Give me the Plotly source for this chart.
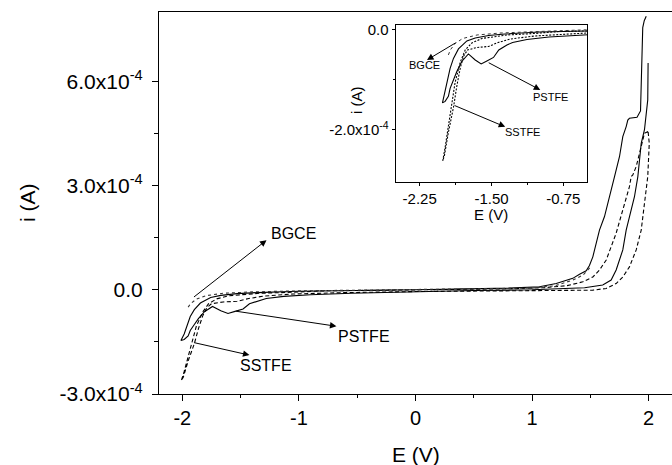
import plotly.graph_objects as go

SCALE = 1e-4  # currents below are stored in units of 1e-4 A

# PSTFE (solid loop): upper branch from +2 V down to the -2 V vertex
pstfe_up_E = [1.979, 1.962, 1.949, 1.94, 1.93, 1.90, 1.865, 1.835, 1.821, 1.807, 1.778, 1.750,
              1.707, 1.664, 1.621, 1.578, 1.550, 1.521, 1.492, 1.464, 1.407, 1.349, 1.207,
              1.063, 0.8, 0.4, 0.0, -0.5, -1.0, -1.36, -1.53, -1.67, -1.757, -1.845, -1.897,
              -1.932, -1.960, -1.984, -2.012]
pstfe_up_i = [7.88, 7.75, 7.55, 6.3, 5.15, 4.97, 4.95, 4.94, 4.89, 4.70, 4.41, 3.84,
              3.26, 2.68, 2.11, 1.72, 1.34, 0.95, 0.70, 0.55, 0.45, 0.33, 0.18,
              0.09, 0.05, 0.02, 0.0, -0.02, -0.04, -0.08, -0.11, -0.16, -0.22, -0.38, -0.57,
              -0.77, -1.03, -1.27, -1.46]
# PSTFE lower branch (with the reduction bump) from the vertex back to +2 V
pstfe_dn_E = [-2.012, -1.984, -1.950, -1.932, -1.897, -1.862, -1.810, -1.757, -1.741, -1.670,
              -1.608, -1.548, -1.479, -1.424, -1.339, -1.280, -1.130, -0.9, -0.55, 0.0, 0.5,
              1.0, 1.3, 1.45, 1.606, 1.678, 1.721, 1.750, 1.778, 1.807, 1.835, 1.878, 1.907,
              1.921, 1.936, 1.964, 1.985, 1.992, 1.995]
pstfe_dn_i = [-1.46, -1.43, -1.33, -1.17, -1.00, -0.83, -0.63, -0.51, -0.48, -0.60,
              -0.68, -0.62, -0.55, -0.40, -0.30, -0.25, -0.19, -0.14, -0.10, -0.05, -0.02,
              0.0, 0.03, 0.06, 0.14, 0.28, 0.57, 0.86, 1.15, 1.72, 2.11, 2.68, 3.26,
              3.84, 4.22, 4.61, 5.18, 5.47, 6.53]

# SSTFE (dashed loop)
sstfe_up_E = [1.995, 1.964, 1.936, 1.893, 1.864, 1.850, 1.835, 1.792, 1.764, 1.721, 1.678,
              1.636, 1.578, 1.521, 1.435, 1.3, 1.1, 0.8, 0.3, -0.3, -0.8, -1.05, -1.338,
              -1.60, -1.705, -1.775, -1.827, -1.88, -1.914, -1.95, -1.984, -2.009]
sstfe_up_i = [4.56, 4.51, 4.13, 3.55, 3.31, 3.26, 2.97, 2.49, 2.11, 1.63, 1.24,
              0.86, 0.57, 0.37, 0.23, 0.12, 0.06, 0.03, 0.01, -0.01, -0.03, -0.07, -0.10,
              -0.17, -0.26, -0.40, -0.65, -1.05, -1.50, -1.95, -2.35, -2.62]
sstfe_dn_E = [-2.009, -1.992, -1.95, -1.897, -1.86, -1.825, -1.79, -1.75, -1.65, -1.53,
              -1.43, -1.30, -1.05, -0.6, 0.0, 0.5, 1.0, 1.3, 1.521, 1.636, 1.721, 1.778,
              1.835, 1.893, 1.936, 1.964, 1.992, 2.005, 1.995]
sstfe_dn_i = [-2.62, -2.52, -2.05, -1.55, -1.10, -0.75, -0.52, -0.40, -0.35, -0.33,
              -0.25, -0.18, -0.12, -0.08, -0.05, -0.03, -0.02, -0.01, -0.01, 0.04, 0.18, 0.37,
              0.66, 1.15, 1.72, 2.49, 3.26, 4.22, 4.56]

# BGCE (dotted)
bgce_E = [-1.95, -1.93, -1.88, -1.80, -1.65, -1.4, -1.0, -0.5, 0.0, 0.5, 1.0, 1.2, 1.349,
          1.435, 1.478, 1.50]
bgce_i = [-0.50, -0.40, -0.27, -0.17, -0.10, -0.06, -0.03, -0.01, 0.0, 0.02, 0.05, 0.12, 0.28,
          0.42, 0.57, 0.65]

main_xticks = [-2, -1, 0, 1, 2]
main_xticktext = ["-2", "-1", "0", "1", "2"]
main_yticks = [-3e-4, 0.0, 3e-4, 6e-4]
main_yticktext = ["-3.0x10<sup>-4</sup>", "0.0", "3.0x10<sup>-4</sup>", "6.0x10<sup>-4</sup>"]
inset_xticks = [-2.25, -1.50, -0.75]
inset_xticktext = ["-2.25", "-1.50", "-0.75"]
inset_yticks = [0.0, -2e-4]
inset_yticktext = ["0.0", "-2.0x10<sup>-4</sup>"]

FONT = "Liberation Sans, Arial, sans-serif"
fig = go.Figure()

def add_curves(xa, ya, dash_sstfe, dot_w):
    common = dict(mode="lines", hoverinfo="skip", showlegend=False, xaxis=xa, yaxis=ya)
    fig.add_trace(go.Scatter(x=pstfe_up_E + pstfe_dn_E[1:],
                             y=[v * SCALE for v in pstfe_up_i + pstfe_dn_i[1:]],
                             line=dict(color="black", width=1.1), **common))
    fig.add_trace(go.Scatter(x=sstfe_up_E + sstfe_dn_E[1:],
                             y=[v * SCALE for v in sstfe_up_i + sstfe_dn_i[1:]],
                             line=dict(color="black", width=1.1, dash=dash_sstfe), **common))
    fig.add_trace(go.Scatter(x=bgce_E, y=[v * SCALE for v in bgce_i],
                             line=dict(color="#333", width=dot_w, dash="dot"), **common))

add_curves("x", "y", "4px,2.5px", 1.1)
add_curves("x2", "y2", "2px,1.5px", 1.0)

axis_common = dict(showgrid=False, zeroline=False, showline=True, linecolor="black",
                   linewidth=1.2, ticks="outside", tickcolor="black", tickwidth=1.2)

fig.update_layout(
    width=672, height=465,
    margin=dict(l=159, r=0, t=12, b=71),
    paper_bgcolor="white", plot_bgcolor="white",
    font=dict(family=FONT, color="black"),
    xaxis=dict(domain=[0, 1], range=[-2.2, 2.2], tickvals=main_xticks,
               ticktext=main_xticktext, ticklen=6,
               mirror=True, tickfont=dict(size=20),
               minor=dict(tickvals=[-1.5, -0.5, 0.5, 1.5], ticklen=3, ticks="outside",
                          tickcolor="black"),
               **axis_common),
    yaxis=dict(domain=[0, 1], range=[-3e-4, 8.0e-4], tickvals=main_yticks,
               ticktext=main_yticktext, ticklen=6, tickfont=dict(size=21),
               ticklabelstandoff=5,
               minor=dict(tickvals=[-1.5e-4, 1.5e-4, 4.5e-4], ticklen=4, ticks="outside",
                          tickcolor="black"),
               **axis_common),
    xaxis2=dict(domain=[0.4614, 0.8349], range=[-2.5, -0.5], anchor="y2",
                tickvals=inset_xticks, ticktext=inset_xticktext, ticklen=3, mirror=True,
                tickfont=dict(size=15),
                minor=dict(tickvals=[-1.875, -1.125], ticklen=2, ticks="outside",
                           tickcolor="black"),
                **axis_common),
    yaxis2=dict(domain=[0.5542, 0.966], range=[-3.05e-4, 0.1e-4], anchor="x2",
                tickvals=inset_yticks, ticktext=inset_yticktext, ticklen=3, mirror=True,
                tickfont=dict(size=15),
                minor=dict(tickvals=[-1e-4], ticklen=2, ticks="outside", tickcolor="black"),
                **axis_common),
)

ann = []
# axis titles
ann.append(dict(text="E (V)", xref="x", yref="paper", x=0, y=(394 - 454) / 382,
                showarrow=False, font=dict(size=21), xanchor="center", yanchor="middle"))
ann.append(dict(text="i (A)", xref="paper", yref="paper", x=-0.2573, y=0.5, showarrow=False,
                font=dict(size=21), textangle=-90, xanchor="center", yanchor="middle"))
ann.append(dict(text="E (V)", xref="x2", yref="paper", x=-1.5, y=(394 - 214) / 382,
                showarrow=False, font=dict(size=15), xanchor="center", yanchor="middle"))
ann.append(dict(text="i (A)", xref="paper", yref="y2", x=(357 - 159) / 513, y=-1.4e-4,
                showarrow=False, font=dict(size=15), textangle=-90,
                xanchor="center", yanchor="middle"))

def arrow(xr, yr, tail, head):
    return dict(text="", xref=xr, yref=yr, axref=xr, ayref=yr,
                x=head[0], y=head[1] * SCALE, ax=tail[0], ay=tail[1] * SCALE,
                showarrow=True, arrowhead=2, arrowsize=1.3, arrowwidth=1,
                arrowcolor="black", standoff=0, startstandoff=0)

def label(xr, yr, txt, pos, size, anchor="left"):
    return dict(text=txt, xref=xr, yref=yr, x=pos[0], y=pos[1] * SCALE, showarrow=False,
                font=dict(size=size), xanchor=anchor, yanchor="middle")

# main labels
ann.append(arrow("x", "y", (-1.913, -0.24), (-1.278, 1.43)))
ann.append(label("x", "y", "BGCE", (-1.255, 1.63), 16))
ann.append(arrow("x", "y", (-1.552, -0.61), (-0.678, -1.05)))
ann.append(label("x", "y", "PSTFE", (-0.686, -1.34), 16))
ann.append(arrow("x", "y", (-1.913, -1.51), (-1.424, -1.88)))
ann.append(label("x", "y", "SSTFE", (-1.524, -2.19), 16))
# inset labels
ann.append(arrow("x2", "y2", (-1.859, -0.24), (-2.173, -0.60)))
ann.append(label("x2", "y2", "BGCE", (-2.204, -0.70), 11, "center"))
ann.append(arrow("x2", "y2", (-1.545, -0.64), (-0.991, -1.20)))
ann.append(label("x2", "y2", "PSTFE", (-0.881, -1.34), 11, "center"))
ann.append(arrow("x2", "y2", (-1.901, -1.50), (-1.357, -1.94)))
ann.append(label("x2", "y2", "SSTFE", (-1.174, -2.04), 11, "center"))

fig.update_layout(annotations=ann)
fig.write_html("out.html", config={"displayModeBar": False},
               post_script="document.body.style.margin='0';document.body.style.overflow='hidden';")
